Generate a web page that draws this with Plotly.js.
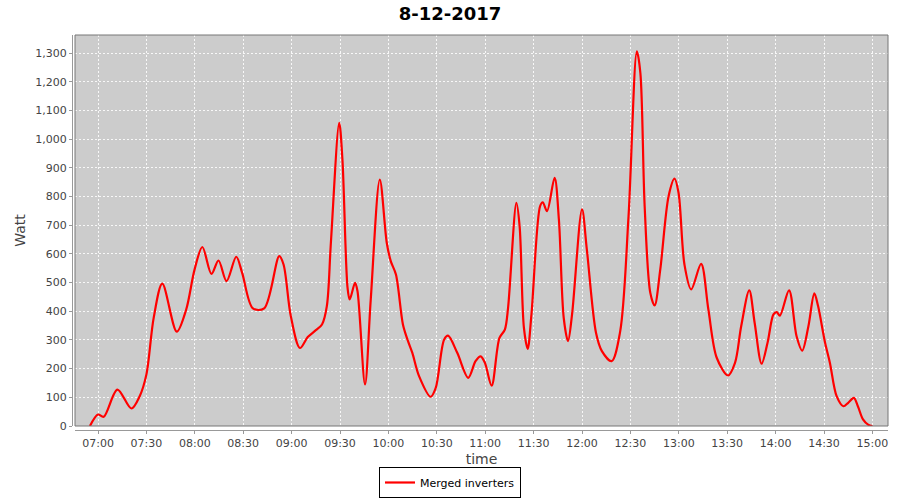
<!DOCTYPE html>
<html>
<head>
<meta charset="utf-8">
<script src="https://cdn.plot.ly/plotly-3.0.1.min.js"></script>
<style>
  html, body { margin: 0; padding: 0; background: #ffffff; }
  #chart { width: 900px; height: 500px; }
</style>
</head>
<body>
<div id="chart"></div>
<script>
// ---- data ----
const chartTitle = "8-12-2017";
const seriesName = "Merged inverters";
const day = "2017-12-08";
const times = [
  "06:55:00","07:00:00","07:03:30","07:12:00","07:20:40","07:25:50","07:30:00","07:34:30","07:39:50","07:48:50",
  "07:54:40","07:59:50","08:04:40","08:10:20","08:14:40","08:19:40","08:25:40","08:29:20","08:36:00","08:43:00",
  "08:52:20","08:55:00","08:59:30","09:05:10","09:10:00","09:15:00","09:18:50","09:21:50","09:24:20","09:29:30",
  "09:31:30","09:34:40","09:36:00","09:39:20","09:40:50","09:45:30","09:49:00","09:54:40","09:59:00","10:01:30",
  "10:04:40","10:09:00","10:11:50","10:14:50","10:19:00","10:26:10","10:29:20","10:34:30","10:37:00","10:42:40",
  "10:49:30","10:54:00","10:57:10","10:59:50","11:04:00","11:08:50","11:12:10","11:14:10","11:19:20","11:21:20",
  "11:24:00","11:26:20","11:28:40","11:34:00","11:35:40","11:38:20","11:43:00","11:45:40","11:48:40","11:51:20",
  "11:53:50","12:00:00","12:03:00","12:08:40","12:12:20","12:18:20","12:23:40","12:28:50","12:34:00","12:36:10",
  "12:38:50","12:42:20","12:45:00","12:48:30","12:53:40","12:57:20","12:59:50","13:03:30","13:07:40","13:13:50",
  "13:18:20","13:23:30","13:30:30","13:34:50","13:38:40","13:43:40","13:47:00","13:51:20","13:55:00","13:58:40",
  "14:00:40","14:02:40","14:08:20","14:13:00","14:16:30","14:20:20","14:24:00","14:26:20","14:30:40","14:33:40",
  "14:37:50","14:42:00","14:45:00","14:48:30","14:51:00","14:54:10","14:57:20","15:00:00"
];
const watts = [
  0,40,32,127,61,104,180,377,496,329,
  406,545,624,530,577,505,590,534,410,410,
  592,563,383,272,310,334,354,418,638,1057,
  929,482,441,499,470,145,437,859,638,574,
  528,354,301,255,174,102,133,301,315,255,
  168,226,243,220,141,307,336,412,778,696,
  342,269,389,766,780,749,865,720,377,296,
  389,755,615,325,261,226,330,731,1306,1231,
  766,464,420,545,801,862,813,563,476,565,
  406,238,176,220,348,473,360,217,290,389,
  397,385,473,313,263,348,462,418,290,220,
  104,69,81,98,69,23,5,0
];
const xRange = ["06:45:44", "15:09:40"];
const yRange = [0, 1363];
const xAxisTitle = "time";
const yAxisTitle = "Watt";

const FONT = "DejaVu Sans";
const x = times.map(t => day + " " + t);

const trace = {
  type: "scatter",
  mode: "lines",
  name: seriesName,
  x: x,
  y: watts,
  line: { color: "#ff0000", width: 2.2, shape: "spline", smoothing: 0.9 },
  showlegend: true
};

const layout = {
  width: 900,
  height: 500,
  paper_bgcolor: "#ffffff",
  plot_bgcolor: "#cccccc",
  font: { family: FONT, size: 11, color: "#444444" },
  margin: { l: 72, r: 12, t: 35, b: 70, pad: 0 },
  title: {
    text: "<b>" + chartTitle + "</b>",
    font: { family: FONT, size: 18, color: "#000000" },
    x: 0.5, xref: "container", xanchor: "center",
    y: 1 - 14 / 500, yref: "container", yanchor: "middle"
  },
  xaxis: {
    type: "date",
    domain: [3 / 816, 1],
    anchor: "free",
    position: 0,
    range: xRange.map(t => day + " " + t),
    dtick: 30 * 60 * 1000,
    tick0: day + " 07:00:00",
    tickformat: "%H:%M",
    showline: true, linecolor: "#999999", linewidth: 1,
    ticks: "outside", ticklen: 3, tickcolor: "#999999",
    showgrid: true, gridcolor: "rgba(255,255,255,0.85)", gridwidth: 1, griddash: "2px,2px",
    zeroline: false,
    tickfont: { family: FONT, size: 11, color: "#444444" },
    title: { text: xAxisTitle, font: { family: FONT, size: 14, color: "#444444" }, standoff: 4 }
  },
  yaxis: {
    domain: [4 / 395, 1],
    anchor: "free",
    position: 0,
    range: yRange,
    dtick: 100,
    tick0: 0,
    tickformat: ",d",
    showline: true, linecolor: "#999999", linewidth: 1,
    ticks: "outside", ticklen: 3, tickcolor: "#999999",
    showgrid: true, gridcolor: "rgba(255,255,255,0.85)", gridwidth: 1, griddash: "2px,2px",
    zeroline: false,
    tickfont: { family: FONT, size: 11, color: "#444444" },
    title: { text: yAxisTitle, font: { family: FONT, size: 14, color: "#444444" }, standoff: 5 }
  },
  shapes: [
    {
      type: "rect", xref: "x domain", yref: "y domain",
      x0: 0, x1: 1, y0: 0, y1: 1,
      line: { color: "#777777", width: 1 },
      fillcolor: "rgba(0,0,0,0)", layer: "above"
    }
  ],
  showlegend: true,
  legend: {
    orientation: "h",
    x: 0.5, xref: "container", xanchor: "center",
    y: 1 - 498 / 500, yref: "container", yanchor: "bottom",
    bgcolor: "#ffffff",
    bordercolor: "#000000", borderwidth: 1,
    font: { family: FONT, size: 11, color: "#000000" },
    itemwidth: 30,
    tracegroupgap: 0
  }
};

Plotly.newPlot("chart", [trace], layout, { displayModeBar: false, staticPlot: true });
</script>
</body>
</html>
